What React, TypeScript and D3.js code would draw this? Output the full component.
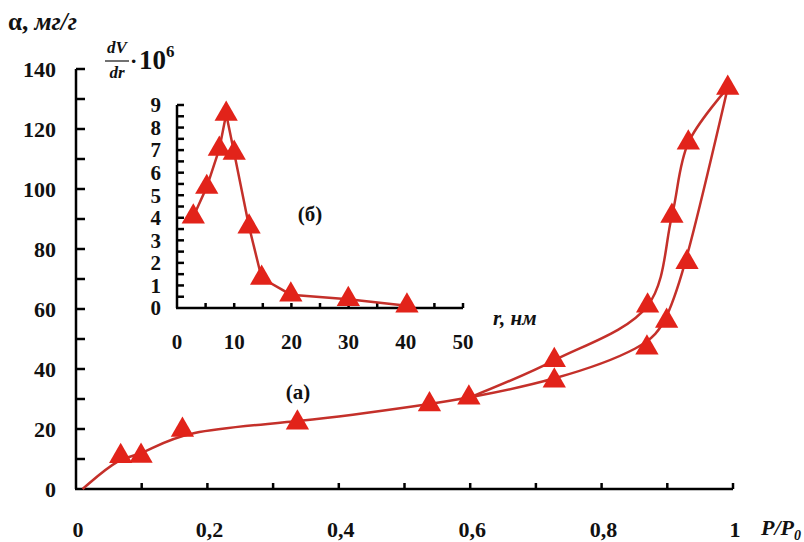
import * as d3 from "d3";

// main isotherm (a): relative pressure P/P0 vs adsorption, mg/g
const adsP = [0.01, 0.068, 0.099, 0.162, 0.337, 0.538, 0.598, 0.728, 0.869, 0.899, 0.93, 0.992];
const adsA = [0, 10.9, 11.0, 19.7, 22.1, 28.2, 30.4, 36.1, 47.1, 56.0, 75.6, 133.7];
const desP = [0.598, 0.728, 0.87, 0.907, 0.932, 0.992];
const desA = [30.4, 42.9, 61.1, 91.0, 115.4, 133.7];

// inset (б): pore size distribution
const poreR = [2.85, 5.2, 7.4, 8.6, 10.0, 12.6, 14.8, 19.9, 29.95, 40.2];
const poreV = [4.05, 5.36, 7.05, 8.6, 6.87, 3.6, 1.33, 0.59, 0.39, 0.1];

const mainXTicks = [0, 0.2, 0.4, 0.6, 0.8, 1];
const mainXLabels = ["0", "0,2", "0,4", "0,6", "0,8", "1"];
const mainYTicks = [0, 20, 40, 60, 80, 100, 120, 140];
const insetXTicks = [0, 10, 20, 30, 40, 50];
const insetYTicks = [0, 1, 2, 3, 4, 5, 6, 7, 8, 9];

const FONT = "'Liberation Serif', 'Times New Roman', serif";
const LINE = "#c4302a";
const MARK = "#e2231a";

export default function App() {
  const x = d3.scaleLinear().domain([0, 1]).range([76, 733]);
  const y = d3.scaleLinear().domain([0, 140]).range([489, 69]);
  const ix = d3.scaleLinear().domain([0, 50]).range([177, 463]);
  const iy = d3.scaleLinear().domain([0, 9]).range([308, 105]);

  // adsorption branch: smoothed trend; desorption branch: through the points
  const smooth = d3.line<[number, number]>()
    .x((d) => x(d[0]))
    .y((d) => y(d[1]))
    .curve(d3.curveBasis);
  const through = d3.line<[number, number]>()
    .x((d) => x(d[0]))
    .y((d) => y(d[1]))
    .curve(d3.curveCatmullRom.alpha(0.5));
  const straight = d3.line<[number, number]>()
    .x((d) => ix(d[0]))
    .y((d) => iy(d[1]));

  const ads = adsP.map((p, i) => [p, adsA[i]] as [number, number]);
  const des = desP.map((p, i) => [p, desA[i]] as [number, number]);
  const pore = poreR.map((r, i) => [r, poreV[i]] as [number, number]);

  const tri = d3.symbol().type(d3.symbolTriangle).size(235)();

  const markers = [...ads.filter((d) => d[1] > 0), ...des.slice(1, -1)];

  return (
    <svg width={804} height={542} style={{ position: "absolute", left: 0, top: 0, background: "#fff" }}
      fontFamily={FONT} fontWeight="bold">
      {/* main axes */}
      <g stroke="#000" strokeWidth={2.5} fill="none">
        <line x1={x(0)} x2={x(0)} y1={y(0)} y2={y(140)} />
        <line x1={x(0) - 1} x2={x(1)} y1={y(0)} y2={y(0)} />
        {d3.range(10, 141, 10).map((v) => (
          <line key={"my" + v} x1={x(0)} x2={x(0) + 9} y1={y(v)} y2={y(v)} />
        ))}
        {d3.range(1, 11).map((k) => (
          <line key={"mx" + k} x1={x(k / 10)} x2={x(k / 10)} y1={y(0)} y2={y(0) - 6} />
        ))}
      </g>
      <g fontSize={22} fill="#111">
        {mainYTicks.map((v) => (
          <text key={"yl" + v} x={56} y={y(v)} dy="0.35em" textAnchor="end">{v}</text>
        ))}
        {mainXTicks.map((v, i) => (
          <text key={"xl" + v} x={x(v) + 2} y={537} textAnchor="middle">{mainXLabels[i]}</text>
        ))}
      </g>
      <text x={8} y={30} fontSize={25} fill="#111">
        α, <tspan fontStyle="italic">мг/г</tspan>
      </text>
      <text x={761} y={535} fontSize={22} fontStyle="italic" fill="#111">
        P/P<tspan fontSize={14} dy={5}>0</tspan>
      </text>

      {/* isotherm branches */}
      <path d={smooth(ads) ?? ""} fill="none" stroke={LINE} strokeWidth={2.5} />
      <path d={through(des) ?? ""} fill="none" stroke={LINE} strokeWidth={2.5} />
      {markers.map((d, i) => (
        <path key={"m" + i} d={tri ?? ""} transform={`translate(${x(d[0])},${y(d[1])})`} fill={MARK} />
      ))}
      <text x={298} y={399} fontSize={21} textAnchor="middle" fill="#111">(а)</text>

      {/* inset axes */}
      <g stroke="#000" strokeWidth={2.5} fill="none">
        <line x1={ix(0)} x2={ix(0)} y1={iy(0)} y2={iy(9)} />
        <line x1={ix(0) - 1} x2={ix(50)} y1={iy(0)} y2={iy(0)} />
        {d3.range(0.5, 9.01, 0.5).map((v) => (
          <line key={"iy" + v} x1={ix(0)} x2={ix(0) + 7} y1={iy(v)} y2={iy(v)} />
        ))}
        {d3.range(5, 51, 5).map((v) => (
          <line key={"ix" + v} x1={ix(v)} x2={ix(v)} y1={iy(0)} y2={iy(0) - 5} />
        ))}
      </g>
      <g fontSize={21} fill="#111">
        {insetYTicks.map((v) => (
          <text key={"iyl" + v} x={161} y={iy(v)} dy="0.35em" textAnchor="end">{v}</text>
        ))}
        {insetXTicks.map((v) => (
          <text key={"ixl" + v} x={ix(v)} y={349} textAnchor="middle">{v}</text>
        ))}
      </g>
      <text x={493} y={325} fontSize={21} fontStyle="italic" fill="#111">r, нм</text>
      <path d={straight(pore) ?? ""} fill="none" stroke={LINE} strokeWidth={2.5} />
      {pore.map((d, i) => (
        <path key={"p" + i} d={tri ?? ""} transform={`translate(${ix(d[0])},${iy(d[1])})`} fill={MARK} />
      ))}
      <text x={310} y={221} fontSize={21} textAnchor="middle" fill="#111">(б)</text>

      {/* inset y label dV/dr · 10^6 */}
      <g fill="#111" fontStyle="italic" fontSize={17}>
        <text x={117} y={53} textAnchor="middle">dV</text>
        <text x={117} y={78} textAnchor="middle">dr</text>
      </g>
      <line x1={105} x2={129} y1={61} y2={61} stroke="#111" strokeWidth={1.2} />
      <text x={130} y={68} fontSize={22} fill="#111">·</text>
      <text x={139} y={69} fontSize={27} fill="#111">
        10<tspan fontSize={17} dy={-12}>6</tspan>
      </text>
    </svg>
  );
}
